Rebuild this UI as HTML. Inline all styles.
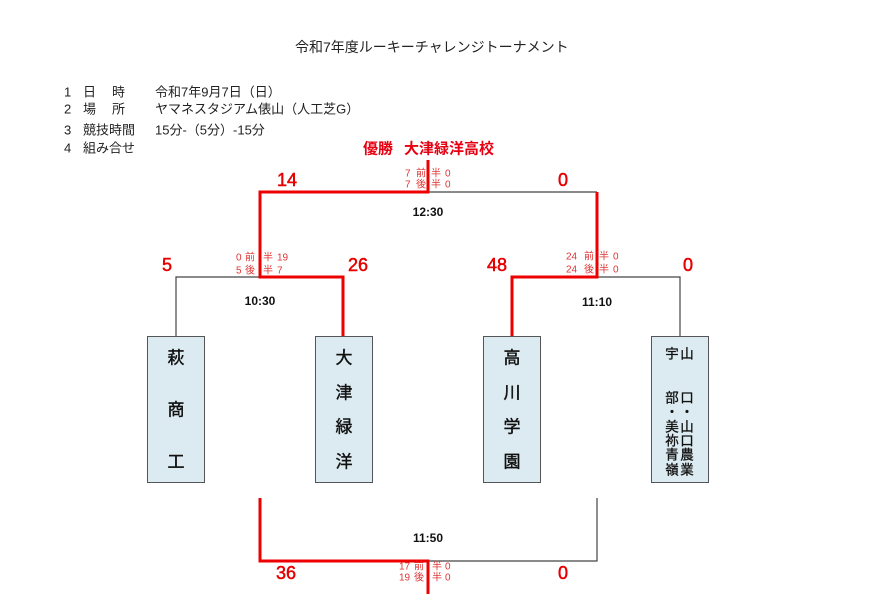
<!DOCTYPE html>
<html><head><meta charset="utf-8"><style>
html,body{margin:0;padding:0;background:#fff;width:870px;height:615px;overflow:hidden}
svg{display:block}
text{font-family:"Liberation Sans","Noto Sans CJK JP",sans-serif}
</style></head><body>
<svg width="870" height="615" viewBox="0 0 870 615" xmlns="http://www.w3.org/2000/svg">
<g dominant-baseline="central" fill="#222">
<text x="295" y="47" font-size="14">令和7年度ルーキーチャレンジトーナメント</text>
<g font-size="13">
<text x="64" y="92">1</text><text x="83" y="92">日</text><text x="112" y="92">時</text><text x="155" y="92">令和7年9月7日（日）</text>
<text x="64" y="109">2</text><text x="83" y="109">場</text><text x="112" y="109">所</text><text x="155" y="109">ヤマネスタジアム俵山（人工芝G）</text>
<text x="64" y="130">3</text><text x="83" y="130">競技時間</text><text x="155" y="130">15分-（5分）-15分</text>
<text x="64" y="148">4</text><text x="83" y="148">組み合せ</text>
</g>
</g>
<!-- champion -->
<g dominant-baseline="central" fill="#e60012" font-size="15" font-weight="bold">
<text x="363" y="149">優勝</text><text x="404" y="149">大津緑洋高校</text>
</g>
<!-- black lines -->
<g stroke="#444" stroke-width="1.2" fill="none">
<polyline points="428,192 597,192"/>
<polyline points="176,336 176,277 260,277"/>
<polyline points="597,277 680,277 680,336"/>
<polyline points="428,561 597,561 597,498"/>
</g>
<!-- red lines -->
<g stroke="#ee0000" stroke-width="3" fill="none">
<polyline points="428,160 428,192 260,192 260,277 343,277 343,336"/>
<polyline points="597,192 597,277 512,277 512,336"/>
<polyline points="260,498 260,561 428,561 428,594"/>
</g>
<!-- boxes -->
<g fill="#dcebf1" stroke="#555" stroke-width="1">
<rect x="147.5" y="336.5" width="57" height="146"/>
<rect x="315.5" y="336.5" width="57" height="146"/>
<rect x="483.5" y="336.5" width="57" height="146"/>
<rect x="651.5" y="336.5" width="57" height="146"/>
</g>
<g dominant-baseline="central" text-anchor="middle" fill="#111" stroke="#111" stroke-width="0.4" font-size="17">
<text x="176" y="358">萩</text><text x="176" y="410">商</text><text x="176" y="462">工</text>
<text x="344" y="358">大</text><text x="344" y="393">津</text><text x="344" y="427">緑</text><text x="344" y="462">洋</text>
<text x="512" y="358">高</text><text x="512" y="393">川</text><text x="512" y="427">学</text><text x="512" y="462">園</text>
</g>
<g dominant-baseline="central" text-anchor="middle" fill="#111" stroke="#111" stroke-width="0.3" font-size="13.5">
<text x="672" y="354">宇</text><text x="687" y="354">山</text>
<text x="672" y="398">部</text><text x="687" y="398">口</text>
<text x="672" y="412">・</text><text x="687" y="412">・</text>
<text x="672" y="427">美</text><text x="687" y="427">山</text>
<text x="672" y="441">祢</text><text x="687" y="441">口</text>
<text x="672" y="455">青</text><text x="687" y="455">農</text>
<text x="672" y="470">嶺</text><text x="687" y="470">業</text>
</g>
<!-- times -->
<g dominant-baseline="central" text-anchor="middle" fill="#111" font-size="12" font-weight="bold">
<text x="428" y="212">12:30</text>
<text x="260" y="301">10:30</text>
<text x="597" y="302">11:10</text>
<text x="428" y="538">11:50</text>
</g>
<!-- big scores -->
<g dominant-baseline="central" fill="#e60000" stroke="#e60000" stroke-width="0.5" font-size="18">
<text x="277" y="180">14</text><text x="558" y="180">0</text>
<text x="162" y="265">5</text><text x="348" y="265">26</text>
<text x="487" y="265">48</text><text x="683" y="265">0</text>
<text x="276" y="573">36</text><text x="558" y="573">0</text>
</g>
<!-- half scores -->
<g dominant-baseline="central" fill="#e03535" font-size="10">
<text x="405" y="174">7</text><text x="416" y="174">前</text><text x="431" y="174">半</text><text x="445" y="174">0</text>
<text x="405" y="185">7</text><text x="416" y="185">後</text><text x="431" y="185">半</text><text x="445" y="185">0</text>

<text x="236" y="258">0</text><text x="245" y="258">前</text><text x="263" y="258">半</text><text x="277" y="258">19</text>
<text x="236" y="271">5</text><text x="245" y="271">後</text><text x="263" y="271">半</text><text x="277" y="271">7</text>

<text x="566" y="257">24</text><text x="584" y="257">前</text><text x="599" y="257">半</text><text x="613" y="257">0</text>
<text x="566" y="270">24</text><text x="584" y="270">後</text><text x="599" y="270">半</text><text x="613" y="270">0</text>

<text x="399" y="567">17</text><text x="414" y="567">前</text><text x="432" y="567">半</text><text x="445" y="567">0</text>
<text x="399" y="578">19</text><text x="414" y="578">後</text><text x="432" y="578">半</text><text x="445" y="578">0</text>
</g>
</svg>
</body></html>
